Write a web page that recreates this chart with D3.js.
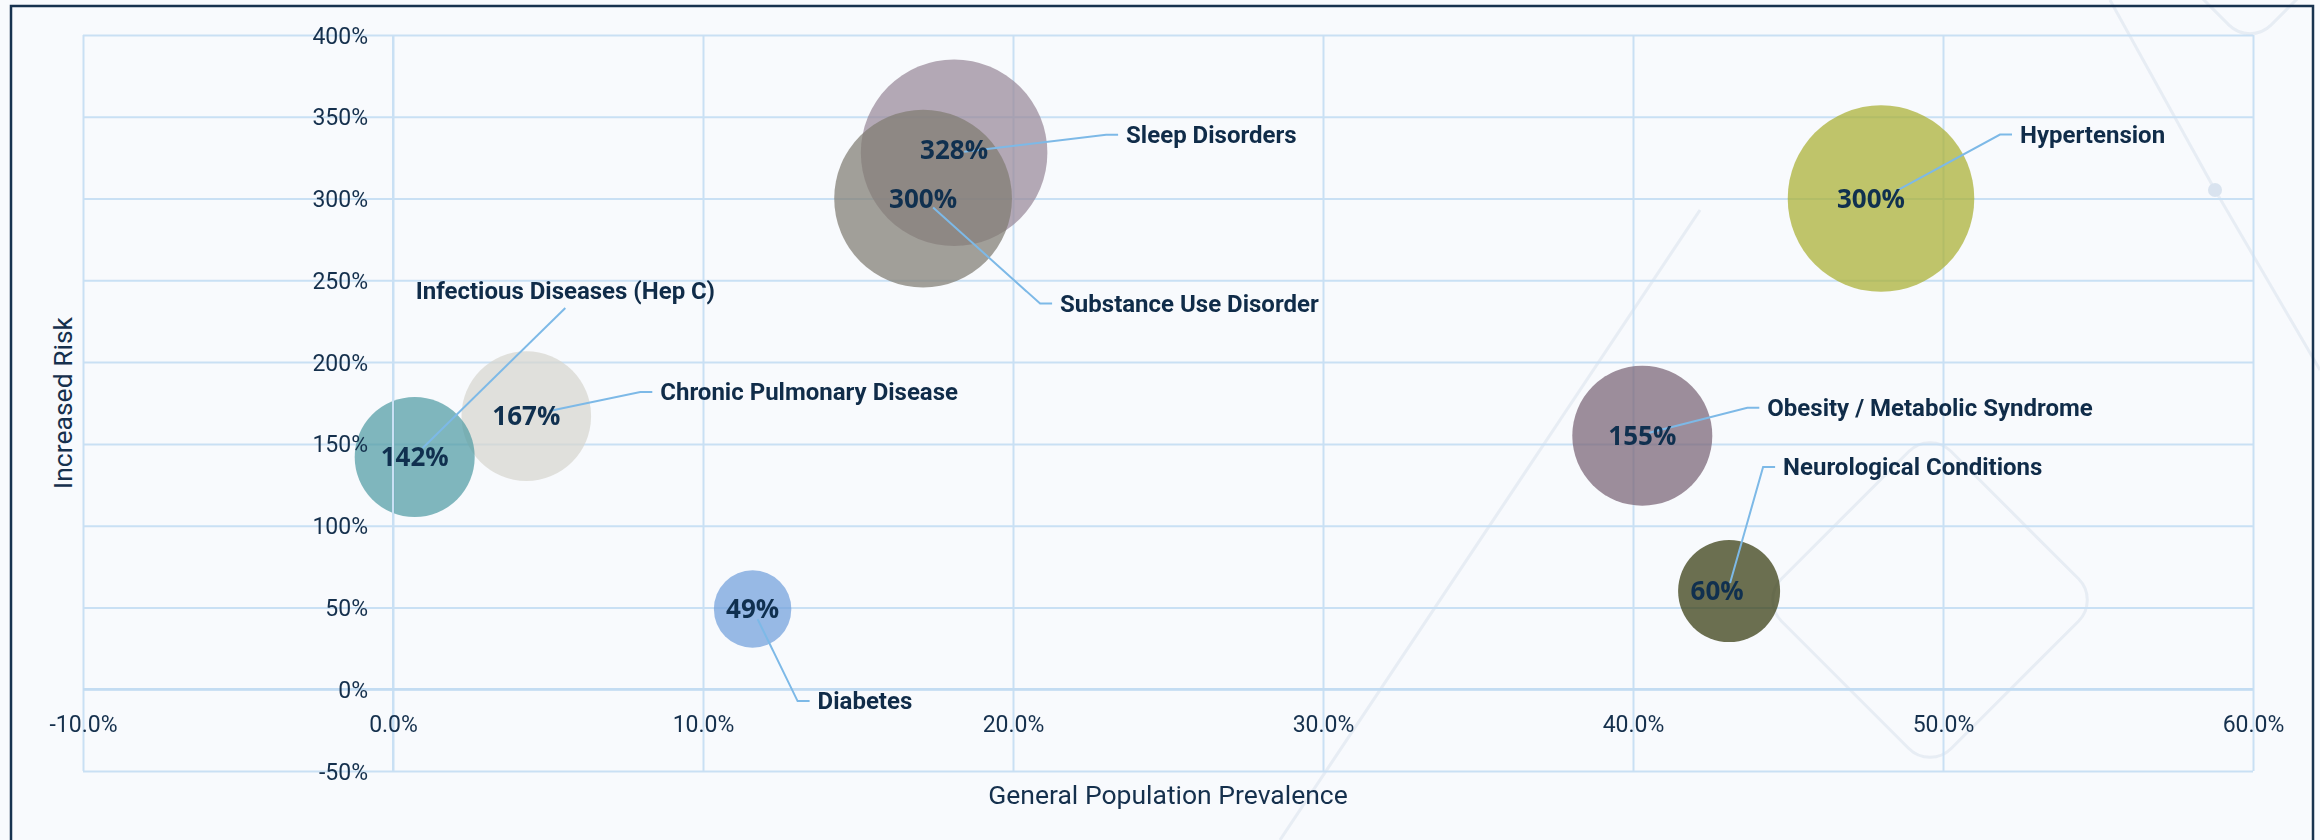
<!DOCTYPE html>
<html lang="en">
<head>
    <meta charset="UTF-8">
    <title>Increased Risk vs General Population Prevalence</title>

    <style>
        body {
            margin: 0;
            background: #fff;
        }

        text {
            font-family: 'Roboto', sans-serif;
            fill: #15304d;
        }

        .grid line {
            stroke: #c9e0f4;
            stroke-width: 2px;
        }

        .grid path {
            display: none;
        }

        .tickLabel {
            font-size: 23px;
        }

        .axisTitle {
            font-size: 26.5px;
        }

        .catLabel {
            font-size: 24px;
            font-weight: bold;
            fill: #102c49;
        }

        .valLabel {
            font-family: 'Open Sans', sans-serif;
            font-size: 26px;
            font-weight: bold;
            fill: #10304f;
        }

        .leader {
            stroke: #7db9e7;
            stroke-width: 2px;
            fill: none;
        }

        .deco {
            fill: none;
            stroke: #e2e8f1;
            stroke-width: 3px;
        }
    </style>
</head>
<body>

<script src="https://d3js.org/d3.v7.min.js"></script>
<script>

    // data, in drawing order
    const categories = ['Chronic Pulmonary Disease', 'Infectious Diseases (Hep C)', 'Diabetes', 'Sleep Disorders',
        'Substance Use Disorder', 'Hypertension', 'Obesity / Metabolic Syndrome', 'Neurological Conditions'];
    const prevalence = [4.3, 0.7, 11.6, 18.1, 17.1, 48.0, 40.3, 43.1];
    const increasedRisk = [167, 142, 49, 328, 300, 300, 155, 60];
    const bubbleSize = [42, 36, 15, 87, 79, 87, 49, 26];

    const xTicks = [-10, 0, 10, 20, 30, 40, 50, 60];
    const xTickLabels = ['-10.0%', '0.0%', '10.0%', '20.0%', '30.0%', '40.0%', '50.0%', '60.0%'];
    const yTicks = [-50, 0, 50, 100, 150, 200, 250, 300, 350, 400];
    const yTickLabels = ['-50%', '0%', '50%', '100%', '150%', '200%', '250%', '300%', '350%', '400%'];

    const colour = ['#d7d5cf', '#509ba4', '#719fdb', '#998898', '#807b71', '#a9ae31', '#796375', '#34390d'];

    // label placement relative to bubble centre (px)
    const labelPos = [
        {dx: 134, dy: -24, sx: 23, sy: -5},
        {dx: 1, dy: -166, sx: 8, sy: -9, below: true},
        {dx: 65, dy: 92, sx: 5, sy: 10},
        {dx: 172, dy: -18, sx: 10, sy: -1, vdy: -3},
        {dx: 137, dy: 105, sx: 10, sy: 9},
        {dx: 139, dy: -64, sx: 14, sy: -7, vdx: -10},
        {dx: 125, dy: -28, sx: 7, sy: -3},
        {dx: 54, dy: -124, sx: 1, sy: -8, vdx: -12}
    ];

    const size = {'width': 2320, 'height': 840};
    const plot = {'left': 83, 'right': 2253, 'top': 35, 'bottom': 771};

    let svg = d3.select('body').append('svg')
        .attr('width', size.width)
        .attr('height', size.height);

    svg.append('rect')
        .attr('width', size.width)
        .attr('height', size.height)
        .style('fill', '#f8fafd');

    // faint background decoration (mostly top right)
    let deco = svg.append('g').style('opacity', 0.75);
    [[2250, -60, 150], [2480, 100, 190], [1930, 600, 240]].forEach(function(d) {
        deco.append('rect')
            .classed('deco', true)
            .attr('x', -d[2] / 2).attr('y', -d[2] / 2)
            .attr('width', d[2]).attr('height', d[2])
            .attr('rx', 30)
            .attr('transform', 'translate(' + d[0] + ',' + d[1] + ') rotate(45)');
    });
    deco.append('path').classed('deco', true).attr('d', 'M2110,0 L2215,190 L2320,370');
    deco.append('path').classed('deco', true).attr('d', 'M1280,840 L1560,420 L1700,210');
    deco.append('circle').attr('cx', 2215).attr('cy', 190).attr('r', 7).style('fill', '#cfdbea');

    let x = d3.scaleLinear().domain([-10, 60]).range([plot.left, plot.right]);
    let y = d3.scaleLinear().domain([-50, 400]).range([plot.bottom, plot.top]);
    let r = d3.scaleSqrt().domain([0, 100]).range([0, 100]);

    // gridlines
    svg.append('g')
        .attr('class', 'grid')
        .attr('transform', 'translate(0,' + plot.bottom + ')')
        .call(d3.axisBottom(x).tickValues(xTicks).tickSize(-(plot.bottom - plot.top)).tickFormat(''));

    svg.append('g')
        .attr('class', 'grid')
        .attr('transform', 'translate(' + plot.left + ',0)')
        .call(d3.axisLeft(y).tickValues(yTicks).tickSize(-(plot.right - plot.left)).tickFormat(''));

    // bubbles
    let bubbles = svg.append('g');
    bubbles.selectAll('circle')
        .data(categories)
        .enter().append('circle')
        .attr('cx', function(d, i) { return x(prevalence[i]); })
        .attr('cy', function(d, i) { return y(increasedRisk[i]); })
        .attr('r', function(d, i) { return r(bubbleSize[i]); })
        .style('fill', function(d, i) { return colour[i]; })
        .style('fill-opacity', 0.72);

    // axis lines crossing at zero, drawn above the bubbles
    svg.append('line')
        .attr('x1', x(0)).attr('x2', x(0))
        .attr('y1', plot.top).attr('y2', plot.bottom)
        .style('stroke', '#c9e0f4').style('stroke-width', '2px');
    svg.append('line')
        .attr('x1', plot.left).attr('x2', plot.right)
        .attr('y1', y(0)).attr('y2', y(0))
        .style('stroke', '#c3dcf2').style('stroke-width', '2.5px');

    // tick labels
    let xAxis = svg.append('g')
        .attr('transform', 'translate(0,' + (y(0) + 35) + ')')
        .call(d3.axisBottom(x).tickValues(xTicks).tickSize(0).tickPadding(0)
            .tickFormat(function(d, i) { return xTickLabels[i]; }));
    xAxis.select('.domain').remove();
    xAxis.selectAll('text')
        .attr('class', 'tickLabel')
        .attr('y', 0)
        .attr('dy', '0.35em')
        .attr('fill', null);

    let yAxis = svg.append('g')
        .attr('transform', 'translate(' + (x(0) - 25) + ',0)')
        .call(d3.axisLeft(y).tickValues(yTicks).tickSize(0).tickPadding(0)
            .tickFormat(function(d, i) { return yTickLabels[i]; }));
    yAxis.select('.domain').remove();
    yAxis.selectAll('text')
        .attr('class', 'tickLabel')
        .attr('x', 0)
        .attr('dy', '0.35em')
        .attr('fill', null);

    // axis titles
    svg.append('text')
        .attr('class', 'axisTitle')
        .attr('x', (plot.left + plot.right) / 2)
        .attr('y', 804)
        .style('text-anchor', 'middle')
        .text('General Population Prevalence');

    svg.append('text')
        .attr('class', 'axisTitle')
        .attr('transform', 'translate(72,' + ((plot.top + plot.bottom) / 2) + ') rotate(-90)')
        .style('text-anchor', 'middle')
        .text('Increased Risk');

    // category labels with leader lines
    let labels = svg.append('g');
    categories.forEach(function(name, i) {
        let cx = x(prevalence[i]);
        let cy = y(increasedRisk[i]);
        let p = labelPos[i];
        let tx = cx + p.dx;
        let ty = cy + p.dy;

        let label = labels.append('text')
            .attr('class', 'catLabel')
            .attr('x', tx)
            .attr('y', ty)
            .attr('dy', '0.35em')
            .text(name);

        let pts;
        if (p.below) {
            let w = label.node().getComputedTextLength();
            pts = [[cx + p.sx, cy + p.sy], [tx + w / 2, ty + 17]];
        } else {
            pts = [[cx + p.sx, cy + p.sy], [tx - 20, ty], [tx - 8, ty]];
        }
        labels.insert('path', 'text')
            .attr('class', 'leader')
            .attr('d', d3.line()(pts));
    });

    // value labels
    let values = svg.append('g');
    values.selectAll('text')
        .data(categories)
        .enter().append('text')
        .attr('class', 'valLabel')
        .attr('x', function(d, i) { return x(prevalence[i]) + (labelPos[i].vdx || 0); })
        .attr('y', function(d, i) { return y(increasedRisk[i]) + (labelPos[i].vdy || 0); })
        .attr('dy', '0.35em')
        .style('text-anchor', 'middle')
        .text(function(d, i) { return increasedRisk[i] + '%'; });

    // outer frame
    svg.append('rect')
        .attr('x', 11)
        .attr('y', 6)
        .attr('width', 2302)
        .attr('height', 900)
        .style('fill', 'none')
        .style('stroke', '#17324f')
        .style('stroke-width', '2.5px');

</script>

</body>
</html>
